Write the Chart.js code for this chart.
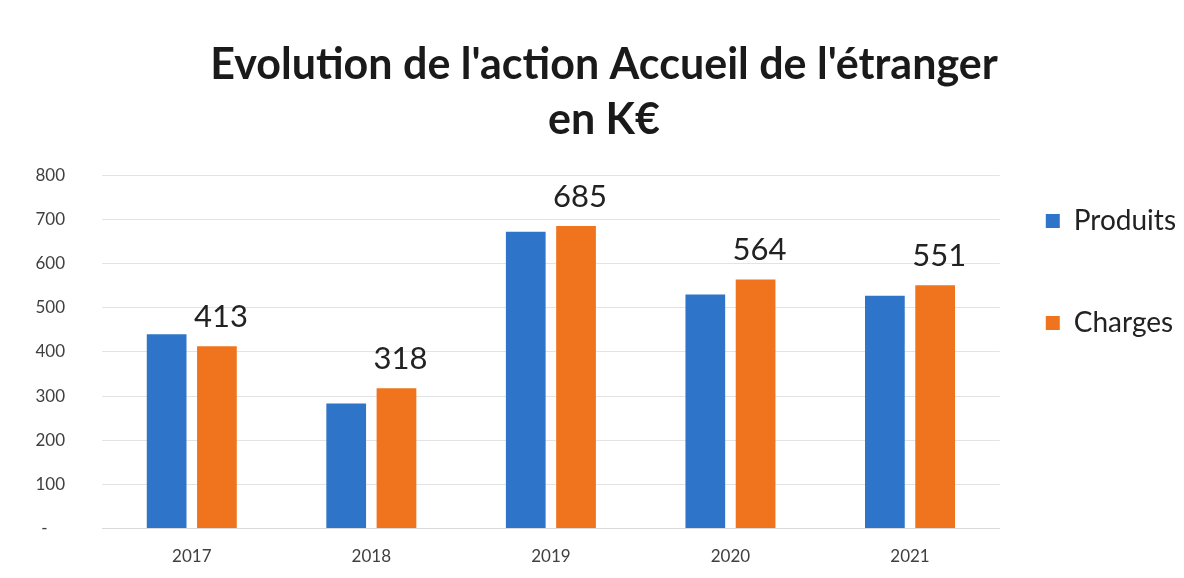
<!DOCTYPE html>
<html>
<head>
<meta charset="utf-8">
<script src="https://cdn.jsdelivr.net/npm/chart.js@4"></script>
<style>
  html, body { margin: 0; padding: 0; background: #ffffff; }
  #wrap { width: 1184px; height: 578px; }
</style>
</head>
<body>
<div id="wrap"><canvas id="c" width="1184" height="578"></canvas></div>
<script>
const categories = ['2017', '2018', '2019', '2020', '2021'];
const produits = [440, 283, 672, 530, 527];
const charges = [413, 318, 685, 564, 551];
const titleLines = ["Evolution de l'action Accueil de l'étranger", 'en K€'];
const seriesNames = ['Produits', 'Charges'];

const labelPlugin = {
  id: 'chargeLabels',
  afterDatasetsDraw(chart) {
    const ctx = chart.ctx;
    const meta = chart.getDatasetMeta(1);
    ctx.save();
    ctx.font = '31px Lato';
    ctx.fillStyle = '#222222';
    ctx.textAlign = 'center';
    ctx.textBaseline = 'bottom';
    meta.data.forEach((el, i) => {
      ctx.fillText(String(charges[i]), el.x + 4, el.y - 14);
    });
    ctx.restore();
  }
};

new Chart(document.getElementById('c'), {
  type: 'bar',
  data: {
    labels: categories,
    datasets: [
      { label: seriesNames[0], data: produits, backgroundColor: '#2e75c9' },
      { label: seriesNames[1], data: charges, backgroundColor: '#ef741d' }
    ]
  },
  options: {
    responsive: false,
    animation: false,
    layout: { padding: { left: 22, right: -2, top: 0, bottom: -7 } },
    datasets: { bar: { categoryPercentage: 0.56, barPercentage: 0.79 } },
    plugins: {
      title: {
        display: true,
        text: titleLines,
        font: { family: 'Lato', size: 43, weight: 'bold', lineHeight: 1.27 },
        color: '#1a1a1a',
        padding: { top: 38, bottom: 28 }
      },
      legend: {
        position: 'right',
        align: 'start',
        title: { display: true, text: ' ', padding: { top: 75, bottom: 74 }, font: { size: 10 } },
        labels: {
          boxWidth: 14, boxHeight: 14,
          padding: 46,
          font: { family: 'Lato', size: 28, lineHeight: 1.0 },
          color: '#222222',
          generateLabels(chart) {
            const items = Chart.defaults.plugins.legend.labels.generateLabels(chart);
            items.forEach((it, i) => { if (i < items.length - 1) it.text = [it.text, ' ']; });
            return items;
          }
        }
      },
      tooltip: { enabled: false }
    },
    scales: {
      x: {
        grid: { display: false, drawTicks: false },
        border: { display: true, color: '#d9d9d9' },
        ticks: { font: { family: 'Lato', size: 17 }, color: '#404040', padding: 18 }
      },
      y: {
        min: 0, max: 800,
        border: { display: false },
        grid: { color: '#e3e3e3', drawTicks: false },
        afterFit(scale) { scale.width = 80; },
        ticks: {
          stepSize: 100,
          font: { family: 'Lato', size: 17 },
          color: '#404040',
          padding: 37,
          callback: (v) => v === 0 ? '-    ' : String(v)
        }
      }
    }
  },
  plugins: [labelPlugin]
});
</script>
</body>
</html>
